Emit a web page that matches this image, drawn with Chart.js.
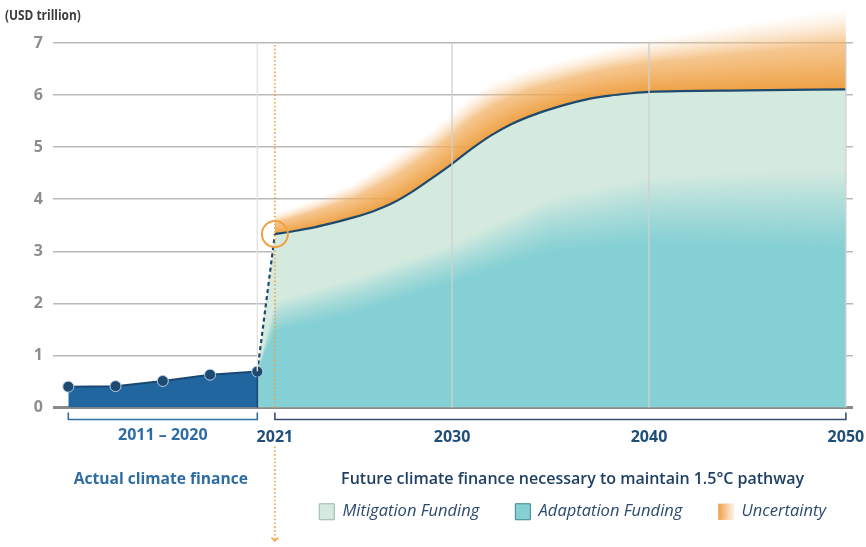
<!DOCTYPE html>
<html>
<head>
<meta charset="utf-8">
<script src="https://cdn.jsdelivr.net/npm/chart.js@4.4.1/dist/chart.umd.min.js"></script>
<style>
  html, body { margin: 0; padding: 0; background: #ffffff; }
  #wrap { width: 866px; height: 547px; position: relative; }
</style>
</head>
<body>
<div id="wrap"><canvas id="c"></canvas></div>
<script>
// ---------------- DATA ----------------
const histPeriods = ['2011/12', '2013/14', '2015/16', '2017/18', '2019/20'];
const histValues  = [0.40, 0.41, 0.51, 0.63, 0.69];

const futureYears  = [2021, 2022, 2023, 2024, 2025, 2026, 2027, 2028, 2029, 2030,
                      2031, 2032, 2033, 2034, 2035, 2036, 2037, 2038, 2039, 2040, 2045, 2050];
const totalFinance = [3.33, 3.39, 3.46, 3.55, 3.65, 3.77, 3.93, 4.15, 4.41, 4.68,
                      4.97, 5.23, 5.44, 5.60, 5.73, 5.84, 5.93, 5.99, 6.03, 6.06, 6.09, 6.11];

const adaptYears = [2021, 2025, 2030, 2035, 2040, 2045, 2050];
const adaptSolid = [1.45, 1.80, 2.40, 3.00, 3.15, 3.10, 3.05];
const adaptFade  = [2.05, 2.50, 3.15, 4.05, 4.45, 4.55, 4.60];

const uncYears = [2021, 2023, 2025, 2027, 2029, 2030, 2031, 2032, 2034, 2036, 2038, 2040, 2045, 2050];
const uncTop   = [3.72, 4.00, 4.32, 4.82, 5.35, 5.68, 6.00, 6.25, 6.52, 6.72, 6.92, 7.08, 7.40, 7.68];

const yTicks = [0, 1, 2, 3, 4, 5, 6, 7];
const xTicks = [2021, 2030, 2040, 2050];
const histRangeLabel = '2011 – 2020';
const yUnitLabel = '(USD trillion)';
const actualLabel = 'Actual climate finance';
const futureLabel = 'Future climate finance necessary to maintain 1.5°C pathway';
const legendNames = ['Mitigation Funding', 'Adaptation Funding', 'Uncertainty'];

// ---------------- STYLE / AXIS GEOMETRY ----------------
const X_MIN = 2009.73, X_MAX = 2050.36;     // future axis bounds
const H_MIN = -0.324, H_MAX = 16.607;       // historic (index) axis bounds
const Y_MAX = 7.71;
const MINT = '#d5eadf', TEAL = '#85d0d4', ORANGE = '#f0a03c';
const LINE = '#1e4a6e', HIST_FILL = '#22669f', HIST_LINE = '#1b4871';
const NAVY = '#1f4e79', BLUE = '#2e6da4';
const FONT = "'Open Sans', 'Noto Sans', sans-serif";
Chart.defaults.font.family = FONT;

const lastHist = histValues.length - 1;
const connectorX = X_MIN + (lastHist - H_MIN) / (H_MAX - H_MIN) * (X_MAX - X_MIN);

function pts(xs, ys) { return xs.map((x, i) => ({x: x, y: ys[i]})); }

// vertical fade pattern: solid at "lower" polyline, transparent at "upper"
function fadePattern(chart, lower, upper, stops) {
  const area = chart.chartArea;
  if (!area || !chart.scales.x) return 'rgba(0,0,0,0)';
  const xs = chart.scales.x, ys = chart.scales.y;
  const W = chart.width, H = chart.height;
  const c = document.createElement('canvas');
  c.width = W; c.height = H;
  const o = c.getContext('2d');
  const toPx = p => p.map(q => [xs.getPixelForValue(q.x), ys.getPixelForValue(q.y)]);
  const L = toPx(lower), U = toPx(upper);
  const interp = (P, px) => {
    if (px <= P[0][0]) return P[0][1];
    for (let i = 1; i < P.length; i++) {
      if (px <= P[i][0]) {
        const t = (px - P[i - 1][0]) / (P[i][0] - P[i - 1][0]);
        return P[i - 1][1] + t * (P[i][1] - P[i - 1][1]);
      }
    }
    return P[P.length - 1][1];
  };
  const x0 = Math.floor(Math.min(L[0][0], U[0][0])) - 1;
  const x1 = Math.ceil(Math.max(L[L.length - 1][0], U[U.length - 1][0])) + 1;
  for (let px = x0; px <= x1; px++) {
    const yl = interp(L, px + 0.5);
    const yu = Math.min(interp(U, px + 0.5), yl - 1);
    const g = o.createLinearGradient(0, yl, 0, yu);
    stops.forEach(s => g.addColorStop(s[0], s[1]));
    o.fillStyle = g;
    o.fillRect(px, 0, 1, H);
  }
  return chart.ctx.createPattern(c, 'no-repeat');
}

const totalPts = pts(futureYears, totalFinance);
const connectorPts = [{x: connectorX, y: histValues[lastHist]}, {x: futureYears[0], y: totalFinance[0]}];
const adaptLower = [{x: connectorX, y: histValues[lastHist]}].concat(pts(adaptYears, adaptSolid));
const adaptUpper = [{x: connectorX, y: histValues[lastHist]}].concat(pts(adaptYears, adaptFade));
const uncPts = pts(uncYears, uncTop);

// ---------------- ANNOTATION PLUGIN ----------------
function seg(ctx, x1, y1, x2, y2) { ctx.beginPath(); ctx.moveTo(x1, y1); ctx.lineTo(x2, y2); ctx.stroke(); }

const annot = {
  id: 'annot',
  afterDatasetsDraw(chart) {
    const ctx = chart.ctx, x = chart.scales.x, xh = chart.scales.xh, y = chart.scales.y;
    const top = y.getPixelForValue(yTicks[yTicks.length - 1]);
    const bot = y.getPixelForValue(0);
    ctx.save();
    ctx.lineWidth = 1.4;
    ctx.strokeStyle = 'rgba(208,208,208,0.95)';
    xTicks.slice(1).forEach(v => { const px = x.getPixelForValue(v); seg(ctx, px, top, px, bot); });
    const hp = xh.getPixelForValue(lastHist);
    const hy = y.getPixelForValue(histValues[lastHist]);
    ctx.strokeStyle = '#e3e3e3';
    seg(ctx, hp, top, hp, hy);
    ctx.strokeStyle = HIST_LINE; ctx.lineWidth = 1.6;
    seg(ctx, hp, hy, hp, bot);
    // orange dotted marker line (upper part)
    const dx = x.getPixelForValue(xTicks[0]);
    ctx.strokeStyle = ORANGE; ctx.lineWidth = 1.6; ctx.setLineDash([1.6, 2.2]);
    seg(ctx, dx, top + 2, dx, bot);
    ctx.restore();
  },
  afterDraw(chart) {
    const ctx = chart.ctx, x = chart.scales.x, xh = chart.scales.xh, y = chart.scales.y;
    const bot = y.getPixelForValue(0);
    const bY = bot + 12;
    const lg = chart.legend;
    ctx.save();
    // brackets
    const bracket = (a, b, col) => {
      ctx.strokeStyle = col; ctx.lineWidth = 1.6;
      ctx.beginPath();
      ctx.moveTo(a, bY - 7); ctx.lineTo(a, bY); ctx.lineTo(b, bY); ctx.lineTo(b, bY - 7);
      ctx.stroke();
    };
    bracket(xh.getPixelForValue(0), xh.getPixelForValue(lastHist), BLUE);
    bracket(x.getPixelForValue(xTicks[0]), x.getPixelForValue(xTicks[xTicks.length - 1]), '#34506f');
    // historic range label, same baseline as the x tick labels
    const labY = x.top + x.options.ticks.padding;
    ctx.font = "bold 16px " + FONT;
    ctx.fillStyle = BLUE; ctx.textAlign = 'center'; ctx.textBaseline = 'top';
    ctx.fillText(histRangeLabel, xh.getPixelForValue(lastHist / 2), labY);
    // captions above the legend row
    const capY = lg.top + 12;
    ctx.font = "bold 15.6px " + FONT;
    ctx.textBaseline = 'middle';
    ctx.fillText(actualLabel, xh.getPixelForValue(lastHist / 2) - 2, capY);
    const hbs = lg.legendHitBoxes || [];
    if (hbs.length) {
      const l = hbs[0].left, r = hbs[hbs.length - 1].left + hbs[hbs.length - 1].width;
      ctx.font = "600 16px " + FONT;
      ctx.fillStyle = '#1f3f63';
      ctx.fillText(futureLabel, (l + r) / 2, capY);
    }
    // unit label (slightly condensed)
    ctx.save();
    ctx.font = "bold 14.5px " + FONT;
    ctx.fillStyle = '#3c3c3c'; ctx.textAlign = 'left';
    ctx.translate(5, 16); ctx.scale(0.82, 1);
    ctx.fillText(yUnitLabel, 0, 0);
    ctx.restore();
    // orange dotted marker line (lower part) with arrow
    const dx = x.getPixelForValue(xTicks[0]);
    const endY = chart.height - 6;
    ctx.strokeStyle = ORANGE; ctx.lineWidth = 1.6; ctx.setLineDash([1.6, 2.2]);
    seg(ctx, dx, labY + 19, dx, endY);
    ctx.setLineDash([]); ctx.lineWidth = 1.4;
    ctx.beginPath(); ctx.moveTo(dx - 3.5, endY - 3.5); ctx.lineTo(dx, endY); ctx.lineTo(dx + 3.5, endY - 3.5); ctx.stroke();
    // uncertainty legend swatch gradient
    const hb = hbs[2];
    if (hb) {
      const by = hb.top + (hb.height - 16) / 2;
      const g = ctx.createLinearGradient(hb.left, 0, hb.left + 15, 0);
      g.addColorStop(0, '#efa048'); g.addColorStop(1, '#fdf1e4');
      ctx.fillStyle = g; ctx.fillRect(hb.left, by, 15, 16);
    }
    ctx.restore();
  }
};

// ---------------- CHART ----------------
new Chart(document.getElementById('c'), {
  type: 'line',
  data: {
    datasets: [
      { // 0 total / mitigation
        label: legendNames[0], xAxisID: 'x', yAxisID: 'y', data: totalPts,
        borderColor: LINE, borderWidth: 2.2, backgroundColor: MINT, fill: 'origin',
        pointRadius: 0, cubicInterpolationMode: 'monotone', order: 5
      },
      { // 1 adaptation
        label: legendNames[1], xAxisID: 'x', yAxisID: 'y', data: adaptUpper,
        borderWidth: 0, borderColor: 'rgba(0,0,0,0)', pointRadius: 0, tension: 0, fill: 'origin',
        backgroundColor: (c) => fadePattern(c.chart, adaptLower, adaptUpper,
          [[0, 'rgba(133,208,212,1)'], [0.5, 'rgba(133,208,212,0.55)'], [1, 'rgba(133,208,212,0)']]),
        order: 4
      },
      { // 2 uncertainty
        label: legendNames[2], xAxisID: 'x', yAxisID: 'y', data: uncPts,
        borderWidth: 0, borderColor: 'rgba(0,0,0,0)', pointRadius: 0, tension: 0.3, fill: 0,
        backgroundColor: (c) => fadePattern(c.chart, totalPts, uncPts,
          [[0, 'rgba(238,158,62,0.97)'], [0.55, 'rgba(242,176,100,0.72)'], [1, 'rgba(250,215,175,0)']]),
        order: 6
      },
      { // 3 dashed connector
        label: 'connector', xAxisID: 'x', yAxisID: 'y', data: connectorPts,
        borderColor: LINE, borderWidth: 2.2, borderDash: [4, 3.2], backgroundColor: MINT, fill: 'origin',
        pointRadius: 0, tension: 0, order: 5
      },
      { // 4 historic
        label: 'Actual', xAxisID: 'xh', yAxisID: 'y',
        data: histValues.map((v, i) => ({x: i, y: v})),
        borderColor: HIST_LINE, borderWidth: 2, backgroundColor: HIST_FILL, fill: 'origin', tension: 0,
        pointRadius: 5.5, pointBackgroundColor: '#1c4a73', pointBorderColor: '#b9cde0', pointBorderWidth: 1,
        order: 3
      },
      { // 5 marker circle at 2021
        label: 'marker', xAxisID: 'x', yAxisID: 'y',
        data: [{x: futureYears[0], y: totalFinance[0]}],
        showLine: false, pointRadius: 13, pointBorderWidth: 2, pointBorderColor: ORANGE,
        pointBackgroundColor: 'rgba(0,0,0,0)', order: 0
      }
    ]
  },
  options: {
    responsive: true, maintainAspectRatio: false, animation: false, devicePixelRatio: 1,
    layout: { autoPadding: false, padding: { top: 6, right: 4, bottom: 17, left: 0 } },
    plugins: {
      tooltip: { enabled: false },
      legend: {
        display: true, position: 'bottom', align: 'end',
        title: { display: false },
        labels: {
          boxWidth: 15, boxHeight: 16, padding: 36, color: '#2b4a6d',
          font: { size: 16.5, style: 'italic' },
          generateLabels: () => [
            { text: legendNames[0], fillStyle: MINT, strokeStyle: '#9db5a8', lineWidth: 1, datasetIndex: 0, hidden: false, fontColor: '#2b4a6d' },
            { text: legendNames[1], fillStyle: TEAL, strokeStyle: '#3f8590', lineWidth: 1, datasetIndex: 1, hidden: false, fontColor: '#2b4a6d' },
            { text: legendNames[2], fillStyle: '#f4c08a', strokeStyle: 'rgba(0,0,0,0)', lineWidth: 0, datasetIndex: 2, hidden: false, fontColor: '#2b4a6d' }
          ]
        }
      }
    },
    scales: {
      x: {
        type: 'linear', position: 'bottom', min: X_MIN, max: X_MAX,
        afterBuildTicks: (ax) => { ax.ticks = xTicks.map(v => ({value: v})); },
        ticks: { autoSkip: false, maxRotation: 0, padding: 20, color: NAVY,
                 font: { size: 16, weight: 'bold' }, callback: (v) => String(v) },
        grid: { display: false, drawTicks: false },
        border: { display: false },
        afterFit: (s) => { s.height = 60; s.paddingLeft = 0; s.paddingRight = 0; }
      },
      xh: {
        type: 'linear', position: 'bottom', display: false, min: H_MIN, max: H_MAX
      },
      y: {
        type: 'linear', position: 'left', min: 0, max: Y_MAX, z: 1,
        afterBuildTicks: (ax) => { ax.ticks = yTicks.map(v => ({value: v})); },
        ticks: { padding: 10, color: '#8d8d8d', font: { size: 16, weight: 'bold' }, callback: (v) => String(v) },
        grid: {
          drawTicks: false,
          color: (c) => c.tick && c.tick.value === 0 ? '#8a8a8a' : '#b9b9b9',
          lineWidth: (c) => c.tick && c.tick.value === 0 ? 3 : 1.4
        },
        border: { display: false },
        afterFit: (s) => { s.width = 53; s.paddingTop = 0; s.paddingBottom = 0; }
      },
      y2: {
        type: 'linear', position: 'right', display: true,
        grid: { display: false, drawOnChartArea: false, drawTicks: false },
        ticks: { display: false }, border: { display: false },
        afterFit: (s) => { s.width = 9; s.paddingTop = 0; s.paddingBottom = 0; }
      }
    }
  },
  plugins: [annot]
});
</script>
</body>
</html>
